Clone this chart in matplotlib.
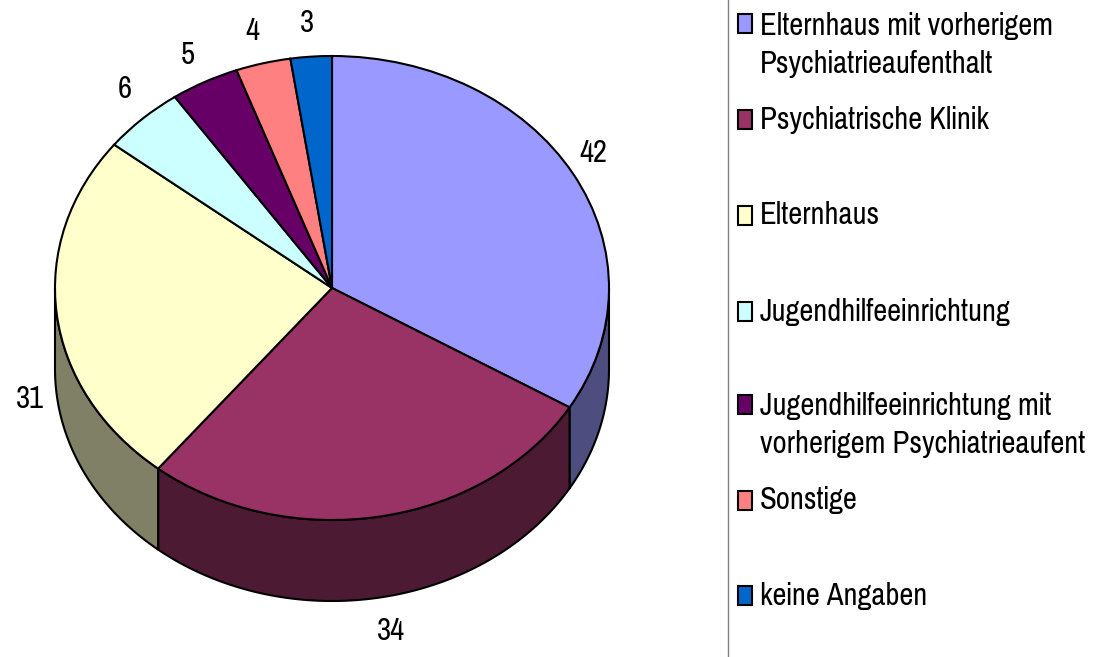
import numpy as np
import matplotlib
matplotlib.use("Agg")
import matplotlib.pyplot as plt
from matplotlib.patches import Rectangle

categories = ["Elternhaus mit vorherigem\nPsychiatrieaufenthalt", "Psychiatrische Klinik", "Elternhaus",
              "Jugendhilfeeinrichtung", "Jugendhilfeeinrichtung mit\nvorherigem Psychiatrieaufent",
              "Sonstige", "keine Angaben"]
values = [42, 34, 31, 6, 5, 4, 3]
colors = ["#9999FF", "#993366", "#FFFFCC", "#CCFFFF", "#660066", "#FF8080", "#0066CC"]
side_colors = ["#4D4D80", "#4D1A33", "#808066", "#668080", "#330033", "#804040", "#003366"]

W, H = 1111, 657
CX, CY, RX, RY, DEPTH = 332, 288, 277, 232, 81
FONT = ["Pragati Narrow", "Liberation Sans"]
FS = 24
LW = 1.5

fig = plt.figure(figsize=(W / 100, H / 100), dpi=100)
ax = fig.add_axes([0, 0, 1, 1])
ax.pie(values, colors=colors, startangle=90, counterclock=False, radius=1,
       wedgeprops=dict(edgecolor="black", linewidth=LW, zorder=5))
ax.set_aspect("auto")
ax.set_xlim(-CX / RX, (W - CX) / RX)
ax.set_ylim((CY - H) / RY, CY / RY)
ax.axis("off")

# extruded front wall of the pie
edges = np.concatenate([[0], np.cumsum(values)]) / sum(values) * 360
d = DEPTH / RY
for i, col in enumerate(side_colors):
    a, b = max(edges[i], 90), min(edges[i + 1], 270)
    if a >= b:
        continue
    t = np.radians(np.linspace(a, b, 120))
    x, y = np.sin(t), np.cos(t)
    ax.fill(np.r_[x, x[::-1]], np.r_[y, y[::-1] - d], facecolor=col, edgecolor="black",
            linewidth=LW, joinstyle="round", zorder=2)

# overlay in pixel space for labels and legend
ov = fig.add_axes([0, 0, 1, 1], facecolor="none")
ov.set_xlim(0, W)
ov.set_ylim(H, 0)
ov.axis("off")

label_pos = [(593, 150), (391, 629), (30, 397), (125, 87), (188, 52), (252, 28), (307, 21)]
for v, (px, py) in zip(values, label_pos):
    ov.text(px, py, str(v), ha="center", va="center_baseline", family=FONT, fontsize=FS, color="black")

ov.plot([728, 728], [0, H], color="#808080", lw=1)

swatch_y = [14, 110, 206, 302, 395, 491, 586]
text_y = [[24, 62], [117], [213], [309], [403, 442], [498], [593]]
for cat, col, sy, tys in zip(categories, colors, swatch_y, text_y):
    ov.add_patch(Rectangle((737.5, sy), 14, 19, facecolor=col, edgecolor="black", linewidth=LW))
    for line, ty in zip(cat.split("\n"), tys):
        ov.text(760, ty, line, ha="left", va="center_baseline", family=FONT, fontsize=FS, color="black")

fig.savefig("out.png", dpi=100)
